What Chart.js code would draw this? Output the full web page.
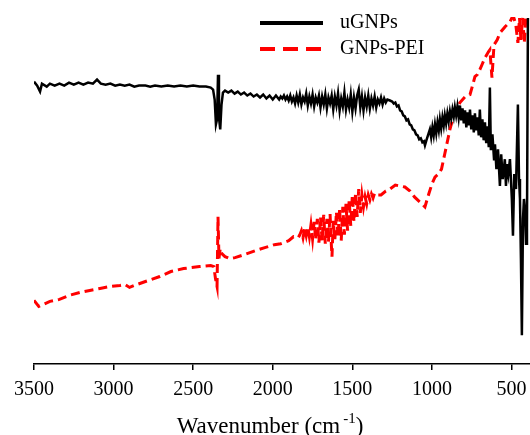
<!DOCTYPE html>
<html>
<head>
<meta charset="utf-8">
<script src="https://cdn.jsdelivr.net/npm/chart.js@4/dist/chart.umd.min.js"></script>
<style>
  html, body { margin: 0; padding: 0; background: #fff; overflow: hidden; }
  #wrap { width: 530px; height: 435px; }
</style>
</head>
<body>
<div id="wrap"><canvas id="ftir" width="530" height="435"></canvas></div>
<script>
// Valores (transmitancia en unidades arbitrarias)
const xTicks = [3500, 3000, 2500, 2000, 1500, 1000, 500];

const ugnpsWn = [3500, 3480, 3462, 3450, 3420, 3400, 3370, 3340, 3310, 3280, 3250, 3220, 3190, 3160, 3130, 3104, 3080, 3050, 3020, 2990,
  2960, 2930, 2900, 2870, 2840, 2800, 2770, 2740, 2700, 2660, 2620, 2580, 2540, 2500, 2460, 2420, 2390, 2375, 2365, 2357,
  2350, 2344, 2338, 2330, 2322, 2313, 2300, 2280, 2260, 2240, 2220, 2200, 2180, 2160, 2140, 2120, 2100, 2080, 2060, 2040,
  2020, 2000, 1980, 1960, 1950, 1940, 1930, 1920, 1910, 1900, 1890, 1880, 1870, 1860, 1850, 1840, 1830, 1820, 1810, 1800,
  1790, 1780, 1770, 1760, 1750, 1740, 1730, 1720, 1710, 1700, 1690, 1680, 1670, 1660, 1650, 1640, 1630, 1620, 1610, 1600,
  1590, 1580, 1570, 1560, 1550, 1540, 1530, 1520, 1510, 1500, 1490, 1480, 1470, 1460, 1450, 1440, 1430, 1420, 1410, 1400,
  1390, 1380, 1370, 1360, 1350, 1340, 1330, 1320, 1310, 1300, 1290, 1280, 1264, 1250, 1240, 1230, 1220, 1210, 1200, 1190,
  1180, 1170, 1160, 1150, 1140, 1130, 1120, 1110, 1100, 1090, 1080, 1070, 1060, 1050, 1044, 1035, 1025, 1013, 1005, 997,
  989, 981, 973, 965, 957, 950, 942, 934, 926, 919, 911, 903, 895, 887, 879, 871, 863, 856, 848, 840,
  832, 824, 816, 808, 800, 792, 784, 776, 768, 761, 753, 745, 737, 730, 722, 714, 706, 699, 691, 683,
  675, 667, 659, 651, 643, 636, 630, 620, 610, 604, 595, 585, 573, 565, 555, 542, 535, 528, 520, 510,
  498, 491, 483, 472, 460, 453, 447, 441, 435, 428, 422, 416, 409, 403, 397];
const ugnpsT = [284, 280, 274, 282, 279, 282, 280, 282, 280, 283, 281, 283, 281, 283, 282, 286, 282, 281, 282, 280,
  281, 280, 281, 279, 280, 280, 279, 280, 279, 280, 279, 280, 279, 280, 279, 279, 278, 276, 266, 241,
  246, 291, 248, 236, 261, 273, 275, 273, 275, 272, 274, 271, 273, 270, 272, 269, 271, 268, 271, 267,
  270, 266, 270, 266, 269, 267, 270, 266, 269, 265, 270, 264, 268, 262, 270, 263, 271, 261, 268, 264,
  272, 260, 269, 262, 271, 259, 268, 263, 270, 258, 269, 261, 271, 257, 268, 262, 270, 256, 269, 260,
  272, 255, 267, 259, 273, 256, 266, 258, 271, 254, 268, 257, 270, 276, 258, 269, 255, 268, 259, 270,
  257, 267, 260, 269, 258, 266, 262, 268, 261, 267, 263, 266, 265, 264, 262, 263, 259, 260, 255, 254,
  250, 249, 245, 246, 241, 240, 236, 235, 231, 230, 226, 227, 223, 224, 220, 225, 230, 236, 228, 238,
  230, 241, 232, 243, 235, 246, 237, 248, 240, 250, 242, 252, 244, 254, 247, 256, 249, 258, 250, 259,
  248, 260, 245, 257, 242, 255, 238, 253, 240, 256, 236, 250, 233, 252, 235, 248, 230, 256, 228, 246,
  225, 243, 222, 239, 218, 278, 215, 231, 206, 221, 196, 216, 179, 211, 186, 206, 179, 201, 191, 206,
  166, 129, 191, 176, 261, 186, 166, 106, 29, 146, 166, 156, 121, 136, 348];

const peiWn = [3500, 3470, 3440, 3400, 3340, 3280, 3210, 3150, 3085, 3020, 2960, 2930, 2900, 2870, 2800, 2710, 2640, 2560, 2460, 2390,
  2370, 2360, 2350, 2344, 2338, 2330, 2320, 2300, 2270, 2237, 2180, 2110, 2050, 1990, 1950, 1900, 1870, 1840, 1830, 1820,
  1810, 1800, 1790, 1780, 1770, 1760, 1750, 1740, 1730, 1720, 1710, 1700, 1690, 1680, 1670, 1660, 1650, 1640, 1632, 1628,
  1620, 1610, 1600, 1590, 1580, 1570, 1560, 1550, 1540, 1530, 1520, 1510, 1500, 1490, 1480, 1470, 1460, 1450, 1440, 1430,
  1420, 1410, 1400, 1390, 1380, 1370, 1360, 1340, 1320, 1290, 1264, 1230, 1200, 1170, 1138, 1110, 1076, 1044, 1020, 1000,
  981, 960, 940, 920, 900, 887, 870, 856, 824, 790, 761, 745, 730, 715, 699, 683, 667, 645, 636, 623,
  610, 590, 573, 542, 510, 498, 485, 473, 460, 450, 441, 430, 420, 410];
const peiT = [64, 58, 60, 63, 65, 69, 72, 74, 76, 78, 79, 80, 77, 79, 83, 88, 93, 96, 98, 99,
  98, 86, 78, 148, 106, 116, 111, 108, 106, 107, 110, 114, 117, 120, 121, 124, 128, 127, 130, 134,
  127, 136, 129, 138, 128, 140, 126, 143, 125, 146, 122, 148, 124, 150, 121, 146, 123, 151, 120, 108,
  144, 125, 153, 128, 156, 124, 158, 130, 161, 134, 165, 139, 170, 143, 172, 148, 176, 152, 170, 158,
  168, 161, 170, 165, 171, 167, 172, 170, 170, 174, 176, 180, 179, 178, 174, 168, 163, 158, 171, 181,
  188, 191, 196, 211, 226, 236, 246, 253, 263, 269, 271, 280, 289, 291, 296, 302, 308, 314, 316, 288,
  321, 326, 333, 339, 344, 348, 348, 341, 323, 348, 326, 348, 323, 348];

const seriesNames = ['uGNPs', 'GNPs-PEI'];
const seriesColors = ['#000000', '#ff0000'];

const serif = '"Liberation Serif", "Times New Roman", serif';

function toPoints(xs, ys) {
  return xs.map((x, i) => ({ x: x, y: ys[i] }));
}

// Leyenda dibujada a mano (linea continua / discontinua + texto)
const legendPlugin = {
  id: 'manualLegend',
  afterDraw(chart) {
    const ctx = chart.ctx;
    const rows = [
      { y: 23, color: seriesColors[0], dash: [] },
      { y: 49, color: seriesColors[1], dash: [15, 8] }
    ];
    ctx.save();
    rows.forEach((r, i) => {
      ctx.beginPath();
      ctx.setLineDash(r.dash);
      ctx.lineWidth = 4;
      ctx.strokeStyle = r.color;
      ctx.moveTo(260, r.y);
      ctx.lineTo(323, r.y);
      ctx.stroke();
      ctx.setLineDash([]);
      ctx.fillStyle = '#000';
      ctx.font = '20px ' + serif;
      ctx.textBaseline = 'middle';
      ctx.textAlign = 'left';
      ctx.fillText(seriesNames[i], 340, r.y);
    });
    ctx.restore();
  }
};

// Titulo del eje X con superindice
const axisTitlePlugin = {
  id: 'axisTitle',
  afterDraw(chart) {
    const ctx = chart.ctx;
    const main = 'Wavenumber (cm';
    const sup = '-1';
    const tail = ')';
    const gap = 3;
    ctx.save();
    ctx.fillStyle = '#000';
    ctx.textBaseline = 'alphabetic';
    ctx.textAlign = 'left';
    ctx.font = '23px ' + serif;
    const w1 = ctx.measureText(main).width;
    const w3 = ctx.measureText(tail).width;
    ctx.font = '15px ' + serif;
    const w2 = ctx.measureText(sup).width;
    const total = w1 + gap + w2 + w3;
    let x = 270 - total / 2;
    const base = 433;
    ctx.font = '23px ' + serif;
    ctx.fillText(main, x, base);
    x += w1 + gap;
    ctx.font = '15px ' + serif;
    ctx.fillText(sup, x, base - 10);
    x += w2;
    ctx.font = '23px ' + serif;
    ctx.fillText(tail, x, base);
    ctx.restore();
  }
};

new Chart(document.getElementById('ftir'), {
  type: 'line',
  data: {
    datasets: [
      {
        label: seriesNames[0],
        data: toPoints(ugnpsWn, ugnpsT),
        borderColor: seriesColors[0],
        borderWidth: 2.5,
        pointRadius: 0,
        tension: 0
      },
      {
        label: seriesNames[1],
        data: toPoints(peiWn, peiT),
        borderColor: seriesColors[1],
        borderWidth: 3,
        borderDash: [9, 5],
        pointRadius: 0,
        tension: 0
      }
    ]
  },
  options: {
    responsive: false,
    animation: false,
    layout: { padding: { top: 17, left: 34, right: 0, bottom: 25 } },
    plugins: {
      legend: { display: false },
      tooltip: { enabled: false }
    },
    scales: {
      x: {
        type: 'linear',
        reverse: true,
        min: 384,
        max: 3500,
        afterBuildTicks: function (scale) {
          scale.ticks = xTicks.map(v => ({ value: v }));
        },
        // sin relleno extra para las etiquetas de los extremos
        afterFit: function (scale) {
          scale.paddingLeft = 0;
          scale.paddingRight = 0;
        },
        border: { display: true, color: '#000', width: 1.5 },
        grid: { display: true, drawOnChartArea: false, drawTicks: true, tickLength: 6, color: '#000', lineWidth: 1.5 },
        ticks: {
          color: '#000',
          font: { family: serif, size: 20 },
          padding: 8,
          maxRotation: 0,
          autoSkip: false,
          callback: function (value) {
            return String(value);
          }
        }
      },
      y: {
        display: false,
        min: 0,
        max: 349
      }
    }
  },
  plugins: [legendPlugin, axisTitlePlugin]
});
</script>
</body>
</html>
